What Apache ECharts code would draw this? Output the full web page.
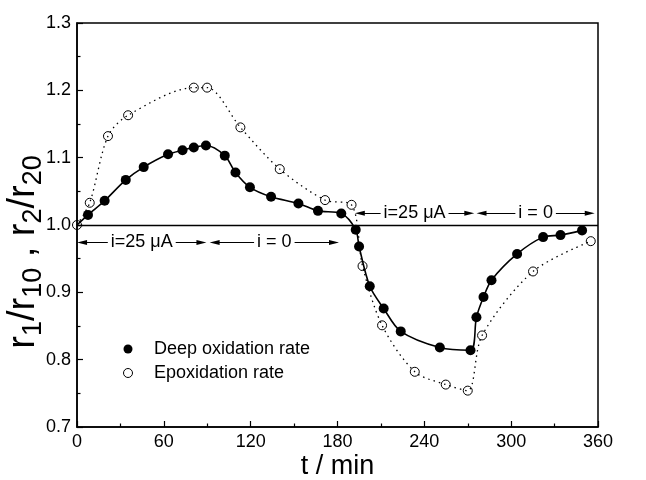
<!DOCTYPE html>
<html><head><meta charset="utf-8">
<script src="https://cdn.jsdelivr.net/npm/echarts@6/dist/echarts.min.js"></script>
<style>html,body{margin:0;padding:0;background:#fff}#c{width:646px;height:480px}</style>
</head><body><div id="c"></div>
<script>
// ---- data ----
const deepT = [0, 7.6, 19.1, 33.7, 46.1, 62.9, 72.9, 80.7, 89.1, 102.1, 109.5, 119.5, 134.1, 153.0, 166.5, 182.6,
               192.6, 194.9, 202.3, 211.9, 223.7, 250.7, 271.9, 276.0, 280.9, 286.4, 304.1, 322.1, 334.1, 349.0];
const deepV = [1.000, 1.015, 1.036, 1.067, 1.086, 1.105, 1.111, 1.115, 1.118, 1.103, 1.078, 1.056, 1.042, 1.032, 1.021, 1.017,
               0.993, 0.968, 0.909, 0.876, 0.842, 0.818, 0.814, 0.863, 0.893, 0.918, 0.957, 0.982, 0.985, 0.992];
const epoT = [0, 8.8, 21.4, 35.3, 80.7, 89.9, 112.9, 140.1, 171.4, 189.7, 197.3, 210.8, 233.4, 254.8, 270.0, 279.9, 315.1, 355.0];
const epoV = [1.000, 1.033, 1.132, 1.163, 1.204, 1.204, 1.145, 1.083, 1.037, 1.030, 0.939, 0.851, 0.782, 0.763, 0.754, 0.836, 0.931, 0.976];
const seriesNames = ['Deep oxidation rate', 'Epoxidation rate'];
const xMin = 0, xMax = 360, xStep = 60;
const yMin = 0.7, yMax = 1.3, yStep = 0.1;
const refLevel = 1.0;
// current annotations (arrow from/to in minutes, level in y units)
const annoText = ['i=25 \u03bcA', 'i = 0', 'i=25 \u03bcA', 'i = 0'];
const annoFrom = [3.5, 95.1, 195.4, 279.5];
const annoTo = [86.0, 177.6, 271.1, 354.3];
const annoLevel = [0.974, 0.974, 1.0174, 1.0174];

// ---- chart ----
const FONT = '"Liberation Sans", Arial, Helvetica, sans-serif';
const deepData = deepT.map((t, i) => i === 0 ? { value: [t, deepV[i]], symbol: 'none' } : [t, deepV[i]]);
const epoData = epoT.map((t, i) => [t, epoV[i]]);
const annoData = annoText.map((txt, i) => [
  { name: txt, coord: [annoFrom[i], annoLevel[i]] },
  { coord: [annoTo[i], annoLevel[i]] }
]);

const chart = echarts.init(document.getElementById('c'), null, { renderer: 'canvas' });
chart.setOption({
  animation: false,
  backgroundColor: '#fff',
  textStyle: { fontFamily: FONT, color: '#000' },
  grid: { left: 77, top: 23, right: 48, bottom: 53, containLabel: false, outerBoundsMode: 'none',
          show: true, borderColor: '#000', borderWidth: 1.5, backgroundColor: 'transparent' },
  legend: {
    orient: 'vertical', left: 118, top: 334, itemWidth: 42, itemHeight: 9, itemGap: 4,
    selectedMode: false,
    textStyle: { fontFamily: FONT, fontSize: 18, lineHeight: 20, color: '#000' },
    data: [
      { name: seriesNames[0], icon: 'circle', itemStyle: { color: '#000', borderWidth: 0 } },
      { name: seriesNames[1], icon: 'circle', itemStyle: { color: '#fff', borderColor: '#000', borderWidth: 1 } }
    ]
  },
  xAxis: {
    type: 'value', min: xMin, max: xMax, interval: xStep,
    name: 't / min', nameLocation: 'middle', nameGap: 26, nameMoveOverlap: false,
    nameTextStyle: { fontFamily: FONT, fontSize: 27, color: '#000' },
    axisLine: { show: true, lineStyle: { color: '#000', width: 1.5 } },
    axisTick: { show: true, inside: true, length: 6, lineStyle: { color: '#000', width: 1.2 } },
    minorTick: { show: true, splitNumber: 2, length: 3.5, lineStyle: { color: '#000', width: 1.2 } },
    splitLine: { show: false }, minorSplitLine: { show: false },
    axisLabel: { color: '#000', fontSize: 18, margin: 6, fontFamily: FONT }
  },
  yAxis: {
    type: 'value', min: yMin, max: yMax, interval: yStep,
    name: '{m|r}{s|1}{m|/r}{s|10}{m| , r}{s|2}{m|/r}{s|20}',
    nameLocation: 'middle', nameRotate: 90, nameGap: 34, nameMoveOverlap: false,
    nameTextStyle: {
      color: '#000',
      padding: [0, 54, 0, 0],
      rich: {
        m: { fontFamily: FONT, fontSize: 38, lineHeight: 38, verticalAlign: 'top', color: '#000' },
        s: { fontFamily: FONT, fontSize: 27, lineHeight: 27, verticalAlign: 'top', padding: [15, 0, 0, 0], color: '#000' }
      }
    },
    axisLine: { show: true, lineStyle: { color: '#000', width: 1.5 } },
    axisTick: { show: true, inside: true, length: 6, lineStyle: { color: '#000', width: 1.2 } },
    minorTick: { show: true, splitNumber: 2, length: 3.5, lineStyle: { color: '#000', width: 1.2 } },
    splitLine: { show: false }, minorSplitLine: { show: false },
    axisLabel: { color: '#000', fontSize: 18, margin: 6, fontFamily: FONT, formatter: v => v.toFixed(1) }
  },
  series: [
    {
      name: seriesNames[1], type: 'line', data: epoData, smooth: 0.3,
      symbol: 'circle', symbolSize: 9,
      itemStyle: { color: 'rgba(255,255,255,0)', borderColor: '#000', borderWidth: 1 },
      lineStyle: { color: '#000', width: 1.3, type: [1.5, 4] },
      emphasis: { disabled: true }, z: 2
    },
    {
      name: seriesNames[0], type: 'line', data: deepData, smooth: 0.3,
      symbol: 'circle', symbolSize: 10,
      itemStyle: { color: '#000' },
      lineStyle: { color: '#000', width: 1.6 },
      emphasis: { disabled: true }, z: 3,
      markLine: {
        silent: true, symbol: ['none', 'none'], animation: false,
        lineStyle: { color: '#000', width: 1.3, type: 'solid' },
        label: { show: false },
        data: [{ yAxis: refLevel }]
      }
    },
    {
      name: 'annotations', type: 'line', data: [], silent: true,
      markLine: {
        silent: true, animation: false,
        symbol: ['triangle', 'triangle'], symbolSize: [5, 10],
        lineStyle: { color: '#000', width: 1, type: 'solid' },
        itemStyle: { color: '#000' },
        label: {
          show: true, position: 'insideMiddle', formatter: '{b}', distance: 0,
          fontFamily: FONT, fontSize: 18, color: '#000',
          backgroundColor: '#fff', padding: [0, 3]
        },
        emphasis: { disabled: true },
        data: annoData
      }
    }
  ]
});
</script></body></html>
